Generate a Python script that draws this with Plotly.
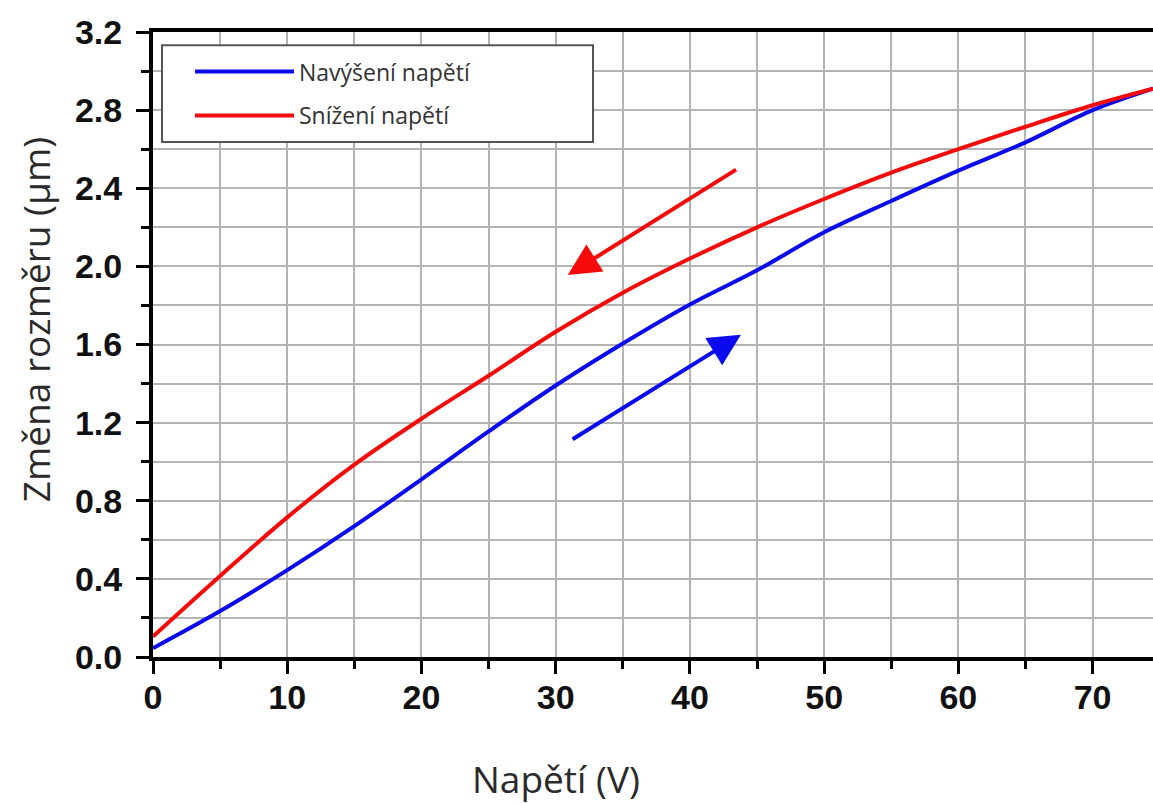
import plotly.graph_objects as go

# Data
voltage = [0, 5, 10, 15, 20, 25, 30, 35, 40, 45, 50, 55, 60, 65, 70, 74.5]
increase = [0.045, 0.235, 0.445, 0.67, 0.91, 1.155, 1.39, 1.605, 1.805, 1.98, 2.175, 2.335, 2.49, 2.635, 2.80, 2.91]
decrease = [0.105, 0.415, 0.715, 0.985, 1.22, 1.44, 1.665, 1.865, 2.04, 2.20, 2.345, 2.48, 2.60, 2.715, 2.825, 2.91]

series_names = ["Navýšení napětí", "Snížení napětí"]
x_title = "Napětí (V)"
y_title = "Změna rozměru (µm)"

# Direction arrows: (tail_x, tail_y, head_x, head_y)
arrow_decrease = [43.55, 2.50, 30.9, 1.956]
arrow_increase = [31.15, 1.11, 43.8, 1.65]

BLUE = "#0a0aef"
RED = "#f50a0a"

fig = go.Figure()
fig.add_trace(go.Scatter(x=voltage, y=increase, mode="lines", name=series_names[0],
                         legendgroup="a",
                         line=dict(color=BLUE, width=4, shape="spline", smoothing=1.0)))
fig.add_trace(go.Scatter(x=voltage, y=decrease, mode="lines", name=series_names[1],
                         legendgroup="b",
                         line=dict(color=RED, width=4, shape="spline", smoothing=1.0)))

for arr, col in [(arrow_decrease, RED), (arrow_increase, BLUE)]:
    fig.add_annotation(x=arr[2], y=arr[3], ax=arr[0], ay=arr[1],
                       xref="x", yref="y", axref="x", ayref="y",
                       text="", showarrow=True, arrowhead=2, arrowsize=1.6,
                       arrowwidth=4, arrowcolor=col)

# axis titles placed as in the reference
title_font = dict(family="Open Sans, sans-serif", size=37, color="#2a2a2a")
fig.add_annotation(text=x_title, xref="paper", yref="paper", x=0.403, y=-0.194,
                   xanchor="center", yanchor="middle", showarrow=False, font=title_font)
fig.add_annotation(text=y_title, xref="paper", yref="paper", x=-0.118, y=0.539,
                   xanchor="center", yanchor="middle", textangle=-90,
                   showarrow=False, font=title_font)

# legend frame
fig.add_shape(type="rect", xref="paper", yref="paper",
              x0=0.009, x1=0.44, y0=0.824, y1=0.979,
              line=dict(color="#555555", width=2), fillcolor="white", layer="above")

tickfont = dict(family="Liberation Sans, Arial, sans-serif", size=34, color="#111111",
                weight="bold")
grid = "#b4b4b4"

fig.update_layout(
    width=1153, height=804,
    margin=dict(l=153, r=0, t=32, b=147),
    paper_bgcolor="white", plot_bgcolor="white",
    showlegend=True,
    legend=dict(x=0.037, y=0.971, xanchor="left", yanchor="top",
                bgcolor="rgba(0,0,0,0)", borderwidth=0,
                font=dict(family="Open Sans, sans-serif", size=23, color="#333333"),
                itemwidth=99, tracegroupgap=11),
    xaxis=dict(range=[0, 74.5], tickmode="linear", tick0=0, dtick=10,
               automargin=False,
               showgrid=True, gridcolor=grid, gridwidth=2,
               minor=dict(dtick=5, showgrid=True, gridcolor=grid, gridwidth=2,
                          ticks="outside", ticklen=8, tickwidth=3, tickcolor="black"),
               ticks="outside", ticklen=13, tickwidth=3, tickcolor="black",
               showline=True, linecolor="black", linewidth=4, mirror=True,
               zeroline=False, tickfont=tickfont, ticklabelstandoff=-6),
    yaxis=dict(range=[0, 3.2], tickmode="linear", tick0=0, dtick=0.4, tickformat=".1f",
               automargin=False,
               showgrid=True, gridcolor=grid, gridwidth=2,
               minor=dict(dtick=0.2, showgrid=True, gridcolor=grid, gridwidth=2,
                          ticks="outside", ticklen=8, tickwidth=3, tickcolor="black"),
               ticks="outside", ticklen=13, tickwidth=3, tickcolor="black",
               showline=True, linecolor="black", linewidth=4, mirror=False,
               zeroline=False, tickfont=tickfont, ticklabelstandoff=7),
)

fig.write_html("out.html", config={"displayModeBar": False},
               post_script="document.body.style.margin='0';document.body.style.overflow='hidden';")
